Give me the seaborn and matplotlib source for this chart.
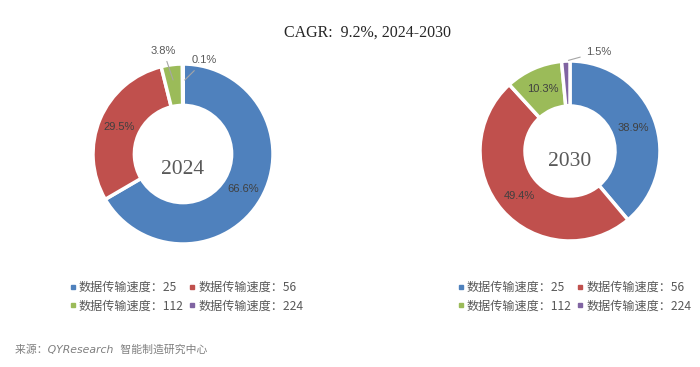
import numpy as np
import matplotlib
matplotlib.use("Agg")
import matplotlib.pyplot as plt
from matplotlib.lines import Line2D
import seaborn as sns

# ==========================================
# 数据
# ==========================================
categories = ["数据传输速度：25", "数据传输速度：56", "数据传输速度：112", "数据传输速度：224"]
share_2024 = [66.6, 29.5, 3.8, 0.1]
share_2030 = [38.9, 49.4, 10.3, 1.5]
years = ["2024", "2030"]
title_text = "CAGR:  9.2%, 2024-2030"
source_text = "来源：QYResearch  智能制造研究中心"

sns.set_theme(style="white")
plt.rcParams['font.family'] = ['Noto Sans CJK SC', 'DejaVu Sans']
palette = sns.color_palette(["#4F81BD", "#C0504D", "#9BBB59", "#8064A2"])

W, H = 700, 367
fig = plt.figure(figsize=(7.0, 3.67), dpi=100)
fig.patch.set_facecolor("white")


def donut_axes(cx, cy, r):
    # pie 默认坐标范围 ±1.25
    half = 1.25 * r
    return fig.add_axes([(cx - half) / W, (H - cy - half) / H, 2 * half / W, 2 * half / H])


def draw_donut(ax, values, year, hole, year_dy, outside):
    wedges, _ = ax.pie(values, colors=palette, startangle=90, counterclock=False,
                       wedgeprops=dict(width=1 - hole, edgecolor="white", linewidth=2.5))
    mid_r = (1 + hole) / 2
    for i, (w, v) in enumerate(zip(wedges, values)):
        ang = np.deg2rad((w.theta1 + w.theta2) / 2)
        label = f"{v:.1f}%"
        if i in outside:
            tx, ty, pr = outside[i]
            ax.annotate(label, xy=(pr * np.cos(ang), pr * np.sin(ang)), xytext=(tx, ty),
                        ha="center", va="center", fontsize=8, color="#595959",
                        family=["Liberation Sans"],
                        arrowprops=dict(arrowstyle="-", color="#A6A6A6", lw=0.8))
        else:
            ax.text(mid_r * np.cos(ang), mid_r * np.sin(ang), label, ha="center", va="center",
                    fontsize=8, color="#404040", family=["Liberation Sans"])
    ax.text(0, year_dy, year, ha="center", va="center", fontsize=15.5, color="#595959",
            family=["Liberation Serif"])
    ax.set_aspect("equal")


ax1 = donut_axes(183, 154, 90)
draw_donut(ax1, share_2024, years[0], 0.54, -0.17, {2: (-0.22, 1.15, 0.8), 3: (0.24, 1.04, 0.8)})

ax2 = donut_axes(570, 151, 90)
draw_donut(ax2, share_2030, years[1], 0.5, -0.12, {3: (0.32, 1.1, 1.0)})

fig.text(0.525, 0.91, title_text, ha="center", va="center", fontsize=11.5, color="#262626",
         family=["Liberation Serif", "Noto Sans CJK SC"])

# 图例：两行两列，按行排列
order = [0, 2, 1, 3]
handles = [Line2D([], [], marker="s", linestyle="", markersize=3.5, color=palette[i]) for i in order]
labels = [categories[i] for i in order]
for x0 in (62 / W, 450 / W):
    fig.legend(handles, labels, ncol=2, loc="center left", bbox_to_anchor=(x0, 1 - 297 / H),
               frameon=False, fontsize=8.7, labelcolor="#595959", handletextpad=0.1,
               columnspacing=0.3, handlelength=0.8, labelspacing=0.45, borderpad=0)

# 来源：拉丁字母用斜体，中文回退到 CJK 字体
fig.text(15 / W, 1 - 350 / H, source_text, ha="left", va="center", fontsize=7.8,
         color="#7F7F7F", style="italic", family=["DejaVu Sans", "Noto Sans CJK SC"])

plt.savefig("out.png", dpi=100)
